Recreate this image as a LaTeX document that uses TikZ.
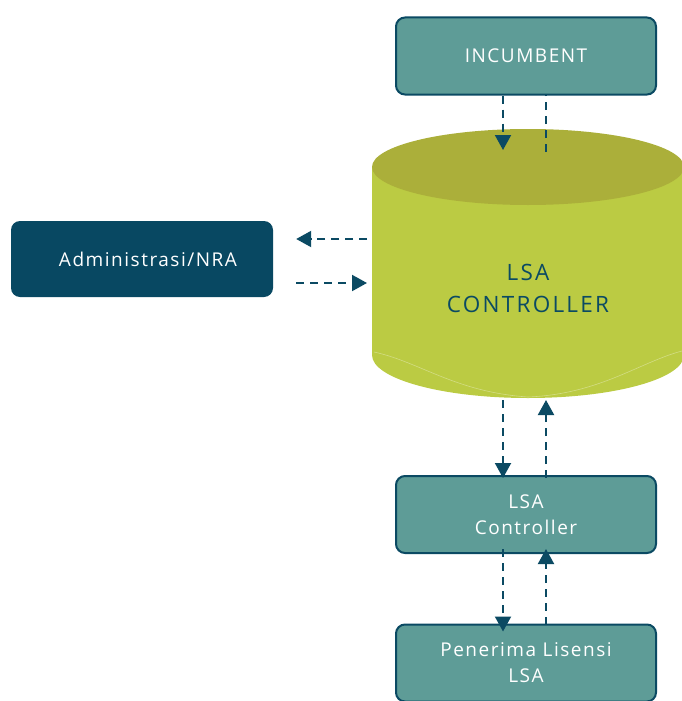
\documentclass[tikz,border=0pt]{standalone}
\usepackage{fontspec}
\setmainfont{Open Sans}
\newfontfamily\boxfont[LetterSpace=8]{Open Sans}
\newfontfamily\cylfont[LetterSpace=10]{Open Sans}
\usetikzlibrary{arrows.meta,calc}

\definecolor{navyline}{HTML}{0B4A63}
\definecolor{navyfill}{HTML}{084862}
\definecolor{tealfill}{HTML}{5E9C97}
\definecolor{cyltopc}{HTML}{ABAF3A}
\definecolor{cylbodyc}{HTML}{BBCB43}

\tikzset{
  tealbox/.style={draw=navyline, line width=2pt, fill=tealfill, rounded corners=9pt,
    text=white, minimum width=260pt, minimum height=77pt, align=center,
    font=\boxfont\fontsize{19pt}{26pt}\selectfont},
  navybox/.style={fill=navyfill, rounded corners=9pt, text=white,
    minimum width=262pt, minimum height=76pt, align=center,
    font=\boxfont\fontsize{19pt}{26pt}\selectfont},
  flow/.style={draw=navyline, line width=2pt, dash pattern=on 8pt off 6pt},
  flowarrow/.style={flow, -{Triangle[width=16pt,length=15pt]}},
}

\begin{document}
\begin{tikzpicture}[x=1pt,y=-1pt]
  \useasboundingbox (0,0) rectangle (682,701);

  % database cylinder
  \fill[cylbodyc] (372,167) -- (372,355)
    arc[start angle=180, end angle=360, x radius=156pt, y radius=43pt]
    -- (684,167) -- cycle;
  \draw[white, opacity=0.35, line width=0.6pt] (374,352)
    .. controls (420,362) and (455,392) .. (528,397)
    .. controls (600,394) and (640,362) .. (682,351);
  \fill[cyltopc] (528,167) ellipse [x radius=156pt, y radius=38pt];
  \node[text=navyline, align=center, font=\cylfont\fontsize{22.5pt}{32pt}\selectfont]
    (lsa) at (528,288) {LSA\\CONTROLLER};

  % cylinder connection points
  \coordinate (cyltop) at (528,150);
  \coordinate (cyltopr) at (528,152);
  \coordinate (cylbot) at (528,400);
  \coordinate (cylleft) at (367,259);

  % columns and rows of the connectors
  \coordinate (cl) at (503,0);
  \coordinate (cr) at (546,0);
  \coordinate (ru) at (0,239);
  \coordinate (rd) at (0,283);

  % boxes
  \node[tealbox] (inc) at (526,56) {INCUMBENT};
  \node[navybox] (adm) at (142,259) {\hspace*{12pt}Administrasi/NRA};
  \node[tealbox] (ctl) at (526,514.5) {LSA\\Controller};
  \node[tealbox] (rec) at (526,663) {Penerima Lisensi\\LSA};

  % connectors
  \draw[flowarrow] (inc.south -| cl) -- (cyltop -| cl);
  \draw[flow] (cyltopr -| cr) -- ([yshift=2pt]inc.south -| cr);

  \draw[flowarrow] (cylleft |- ru) -- ([xshift=23pt]adm.east |- ru);
  \draw[flowarrow] ([xshift=23pt]adm.east |- rd) -- (cylleft |- rd);

  \draw[flowarrow] (cylbot -| cl) -- ([yshift=-3pt]ctl.north -| cl);
  \draw[flowarrow] ([yshift=-3pt]ctl.north -| cr) -- (cylbot -| cr);

  \draw[flowarrow] ([yshift=5pt]ctl.south -| cl) -- ([yshift=-8pt]rec.north -| cl);
  \draw[flowarrow] ([yshift=-1pt]rec.north -| cr) -- ([yshift=5pt]ctl.south -| cr);
\end{tikzpicture}
\end{document}
